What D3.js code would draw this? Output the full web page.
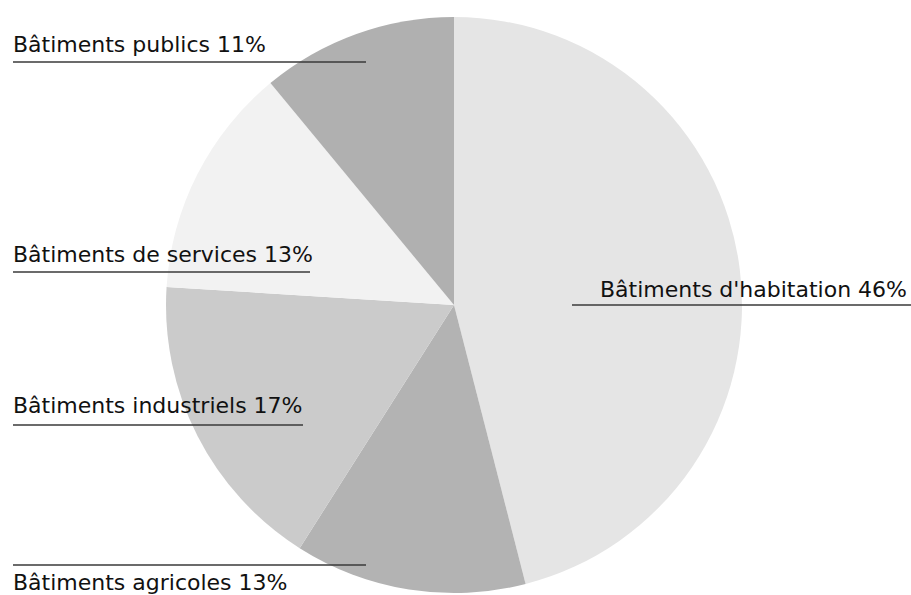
<!DOCTYPE html>
<html>
<head>
<meta charset="utf-8">
<script src="https://cdn.jsdelivr.net/npm/d3@7"></script>
<style>
  html, body { margin: 0; padding: 0; background: #fff; }
  svg { display: block; }
  .lbl { font-family: "DejaVu Sans", sans-serif; font-size: 22px; fill: #111; }
</style>
</head>
<body>
<svg id="chart" width="911" height="595"></svg>
<script>
// Répartition du parc de bâtiments par type
const categories = [
  "Bâtiments d'habitation",
  "Bâtiments agricoles",
  "Bâtiments industriels",
  "Bâtiments de services",
  "Bâtiments publics"
];
const shares = [46, 13, 17, 13, 11];
const sliceColors = ["#e5e5e5", "#b3b3b3", "#cbcbcb", "#f2f2f2", "#b0b0b0"];

const W = 911, H = 595;
const cx = 454, cy = 305, R = 288;

const svg = d3.select("#chart");

const data = categories.map((c, i) => ({ name: c, value: shares[i], color: sliceColors[i] }));

const pie = d3.pie().value(d => d.value).sort(null);
const arc = d3.arc().innerRadius(0).outerRadius(R);
const arcs = pie(data);

const g = svg.append("g").attr("transform", `translate(${cx},${cy})`);
g.selectAll("path.slice")
  .data(arcs)
  .join("path")
  .attr("class", "slice")
  .attr("d", arc)
  .attr("fill", d => d.data.color);

// Étiquettes soulignées : ligne horizontale sous chaque libellé
// (x1, x2 : étendue du trait ; ly : hauteur du trait ; ty : ligne de base du texte ; anchor)
const labelLayout = [
  { x1: 572, x2: 911, ly: 305, tx: 907, ty: 297, anchor: "end" },
  { x1: 13,  x2: 366, ly: 565, tx: 13,  ty: 590, anchor: "start" },
  { x1: 13,  x2: 303, ly: 425, tx: 13,  ty: 413, anchor: "start" },
  { x1: 13,  x2: 310, ly: 272, tx: 13,  ty: 262, anchor: "start" },
  { x1: 13,  x2: 366, ly: 62,  tx: 13,  ty: 52,  anchor: "start" }
];

const labels = svg.append("g");
arcs.forEach((a, i) => {
  const L = labelLayout[i];
  labels.append("line")
    .attr("x1", L.x1).attr("x2", L.x2)
    .attr("y1", L.ly).attr("y2", L.ly)
    .attr("stroke", "#3a3a3a")
    .attr("stroke-width", 1.4);
  labels.append("text")
    .attr("class", "lbl")
    .attr("x", L.tx).attr("y", L.ty)
    .attr("text-anchor", L.anchor)
    .text(`${a.data.name} ${d3.format("d")(a.data.value)}%`);
});
</script>
</body>
</html>
